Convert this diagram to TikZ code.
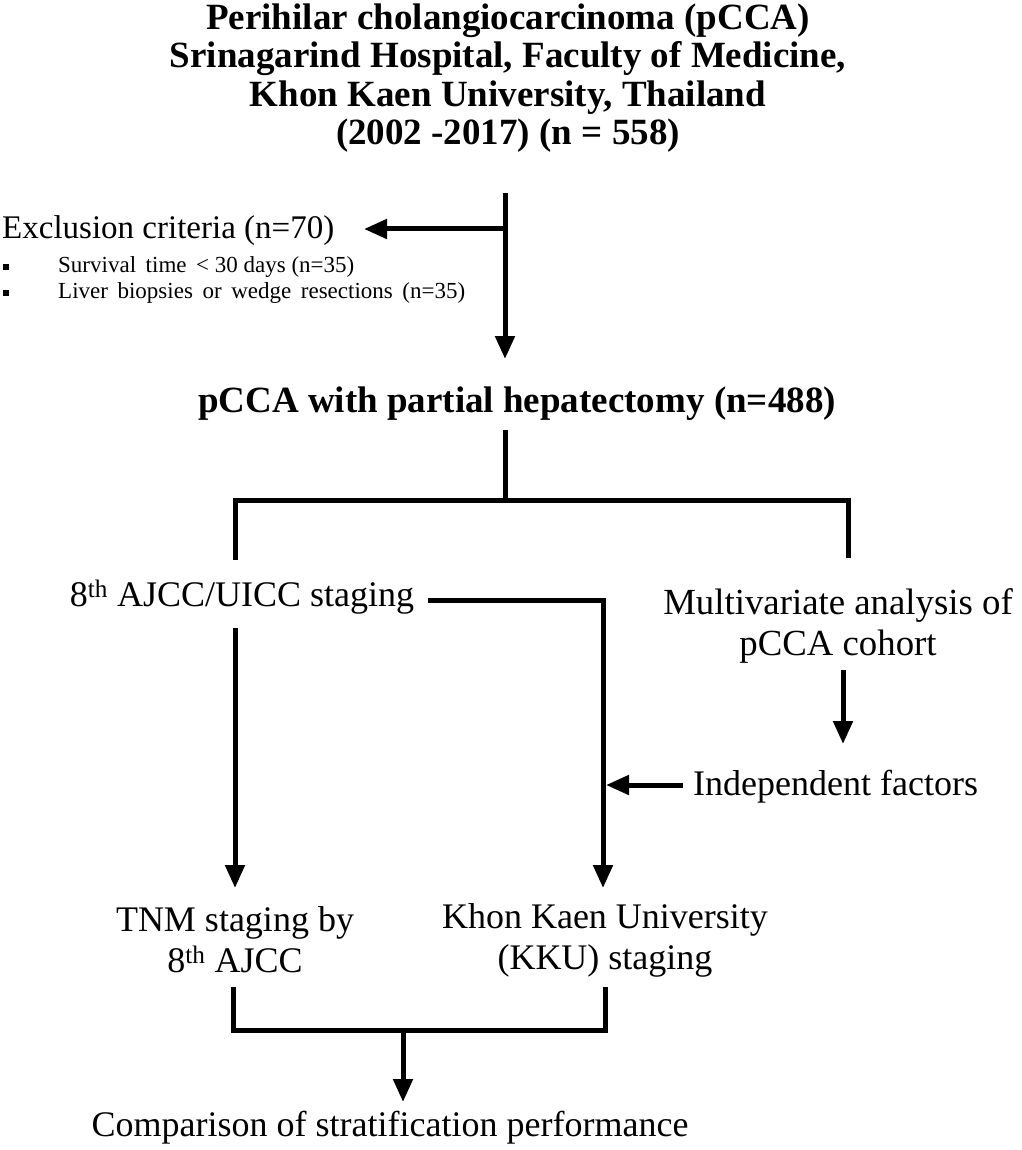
\documentclass[tikz,border=0pt]{standalone}
\usepackage{fontspec}
\setmainfont{Liberation Serif}
\usetikzlibrary{arrows.meta}
\tikzset{
 ln/.style={line width=5pt},
 arr/.style={line width=5pt, -{Triangle[length=23pt,width=19pt]}},
 lbl/.style={font=\fontsize{36}{41}\selectfont, align=center, inner sep=0pt},
 sml/.style={font=\fontsize{23}{26}\selectfont, inner sep=0pt, anchor=west},
 bld/.style={font=\bfseries\fontsize{37}{38.5}\selectfont, align=center, inner sep=0pt},
 sq/.style={fill=black, inner sep=0pt, minimum size=6pt},
}
\begin{document}
\begin{tikzpicture}[x=1pt,y=-1pt]
\useasboundingbox (0,0) rectangle (1021,1150);
\node[bld] (title) at (508,78) {Perihilar cholangiocarcinoma (pCCA)\\Srinagarind Hospital, Faculty of Medicine,\\Khon Kaen University, Thailand\\(2002 -2017) (n = 558)};
\node[font=\fontsize{33}{38}\selectfont, inner sep=0pt, anchor=west] (excl) at (2,231) {Exclusion criteria (n=70)};
\node[sq] (q1) at (6,267) {};
\node[sq] (q2) at (6,293) {};
\node[sml] (s1) at (58,267) {Survival\, time\, < 30 days (n=35)};
\node[sml] (s2) at (58,293) {Liver\, biopsies\, or\, wedge\, resections\, (n=35)};
\node[bld] (hep) at (517,404) {pCCA with partial hepatectomy (n=488)};
\node[lbl] (ajcc) at (242,597) {8\textsuperscript{th} AJCC/UICC staging};
\node[lbl, font=\fontsize{36.8}{41}\selectfont] (multi) at (838,626) {Multivariate analysis of\\pCCA cohort};
\node[lbl, anchor=west] (indep) at (693,787) {Independent factors};
\node[lbl] (tnm) at (235,940) {TNM staging by\\8\textsuperscript{th} AJCC};
\node[lbl] (kku) at (605,940) {Khon Kaen University\\(KKU) staging};
\node[lbl] (comp) at (390,1128) {Comparison of stratification performance};
% connectors
\coordinate (a0) at (505,193);
\coordinate (a1) at (505,229);
\coordinate (a2) at (505,359);
\coordinate (et) at (364,229);
\draw[arr] (a0) -- (a2);
\draw[arr] (a1) -- (et);
\coordinate (b0) at (505,430);
\coordinate (b1) at (505,500);
\coordinate (bl) at (235,500);
\coordinate (br) at (848,500);
\coordinate (bl2) at (235,560);
\coordinate (br2) at (848,558);
\draw[ln] (b0) -- (b1);
\draw[ln] (bl2) -- (bl) -- (br) -- (br2);
\coordinate (c0) at (235,628);
\coordinate (c1) at (235,888);
\draw[arr] (c0) -- (c1);
\coordinate (d0) at (428,600);
\coordinate (d1) at (603,600);
\coordinate (d2) at (603,888);
\draw[arr] (d0) -- (d1) -- (d2);
\coordinate (m0) at (843,670);
\coordinate (m1) at (843,744);
\draw[arr] (m0) -- (m1);
\coordinate (i0) at (683,785);
\coordinate (i1) at (606,785);
\draw[arr] (i0) -- (i1);
\coordinate (e0) at (233,987);
\coordinate (e1) at (233,1030);
\coordinate (e2) at (605,1030);
\coordinate (e3) at (605,987);
\draw[ln] (e0) -- (e1) -- (e2) -- (e3);
\coordinate (f0) at (403,1030);
\coordinate (f1) at (403,1102);
\draw[arr] (f0) -- (f1);
\end{tikzpicture}
\end{document}
